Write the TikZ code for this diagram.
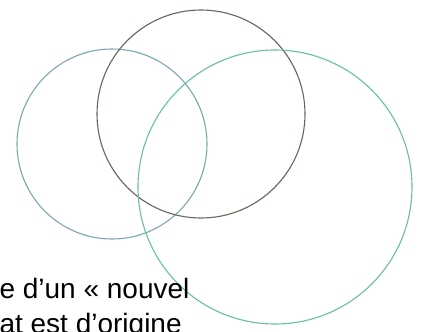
\documentclass[tikz,border=0pt]{standalone}
\usepackage{fontspec}
\setmainfont{Liberation Sans}
\definecolor{ringblue}{RGB}{122,168,176}
\definecolor{ringgrey}{RGB}{104,100,88}
\definecolor{ringgreen}{RGB}{104,190,166}
\begin{document}
\begin{tikzpicture}[x=1pt,y=-1pt,line width=1.1pt,every node/.style={font=\fontsize{28}{35}\selectfont,inner sep=0pt}]
\clip (0,0) rectangle (424,332);
\coordinate (L) at (112,144);
\coordinate (T) at (201,114);
\coordinate (R) at (275,187);
\draw[ringblue] (L) circle[radius=95];
\draw[ringgrey] (T) circle[radius=104];
\draw[ringgreen] (R) circle[radius=137];
\node[anchor=base west] (line1) at (-1,298) {e d’un «~nouvel};
\node[anchor=base west] (line2) at (-1,333) {at est d’origine};
\end{tikzpicture}
\end{document}
